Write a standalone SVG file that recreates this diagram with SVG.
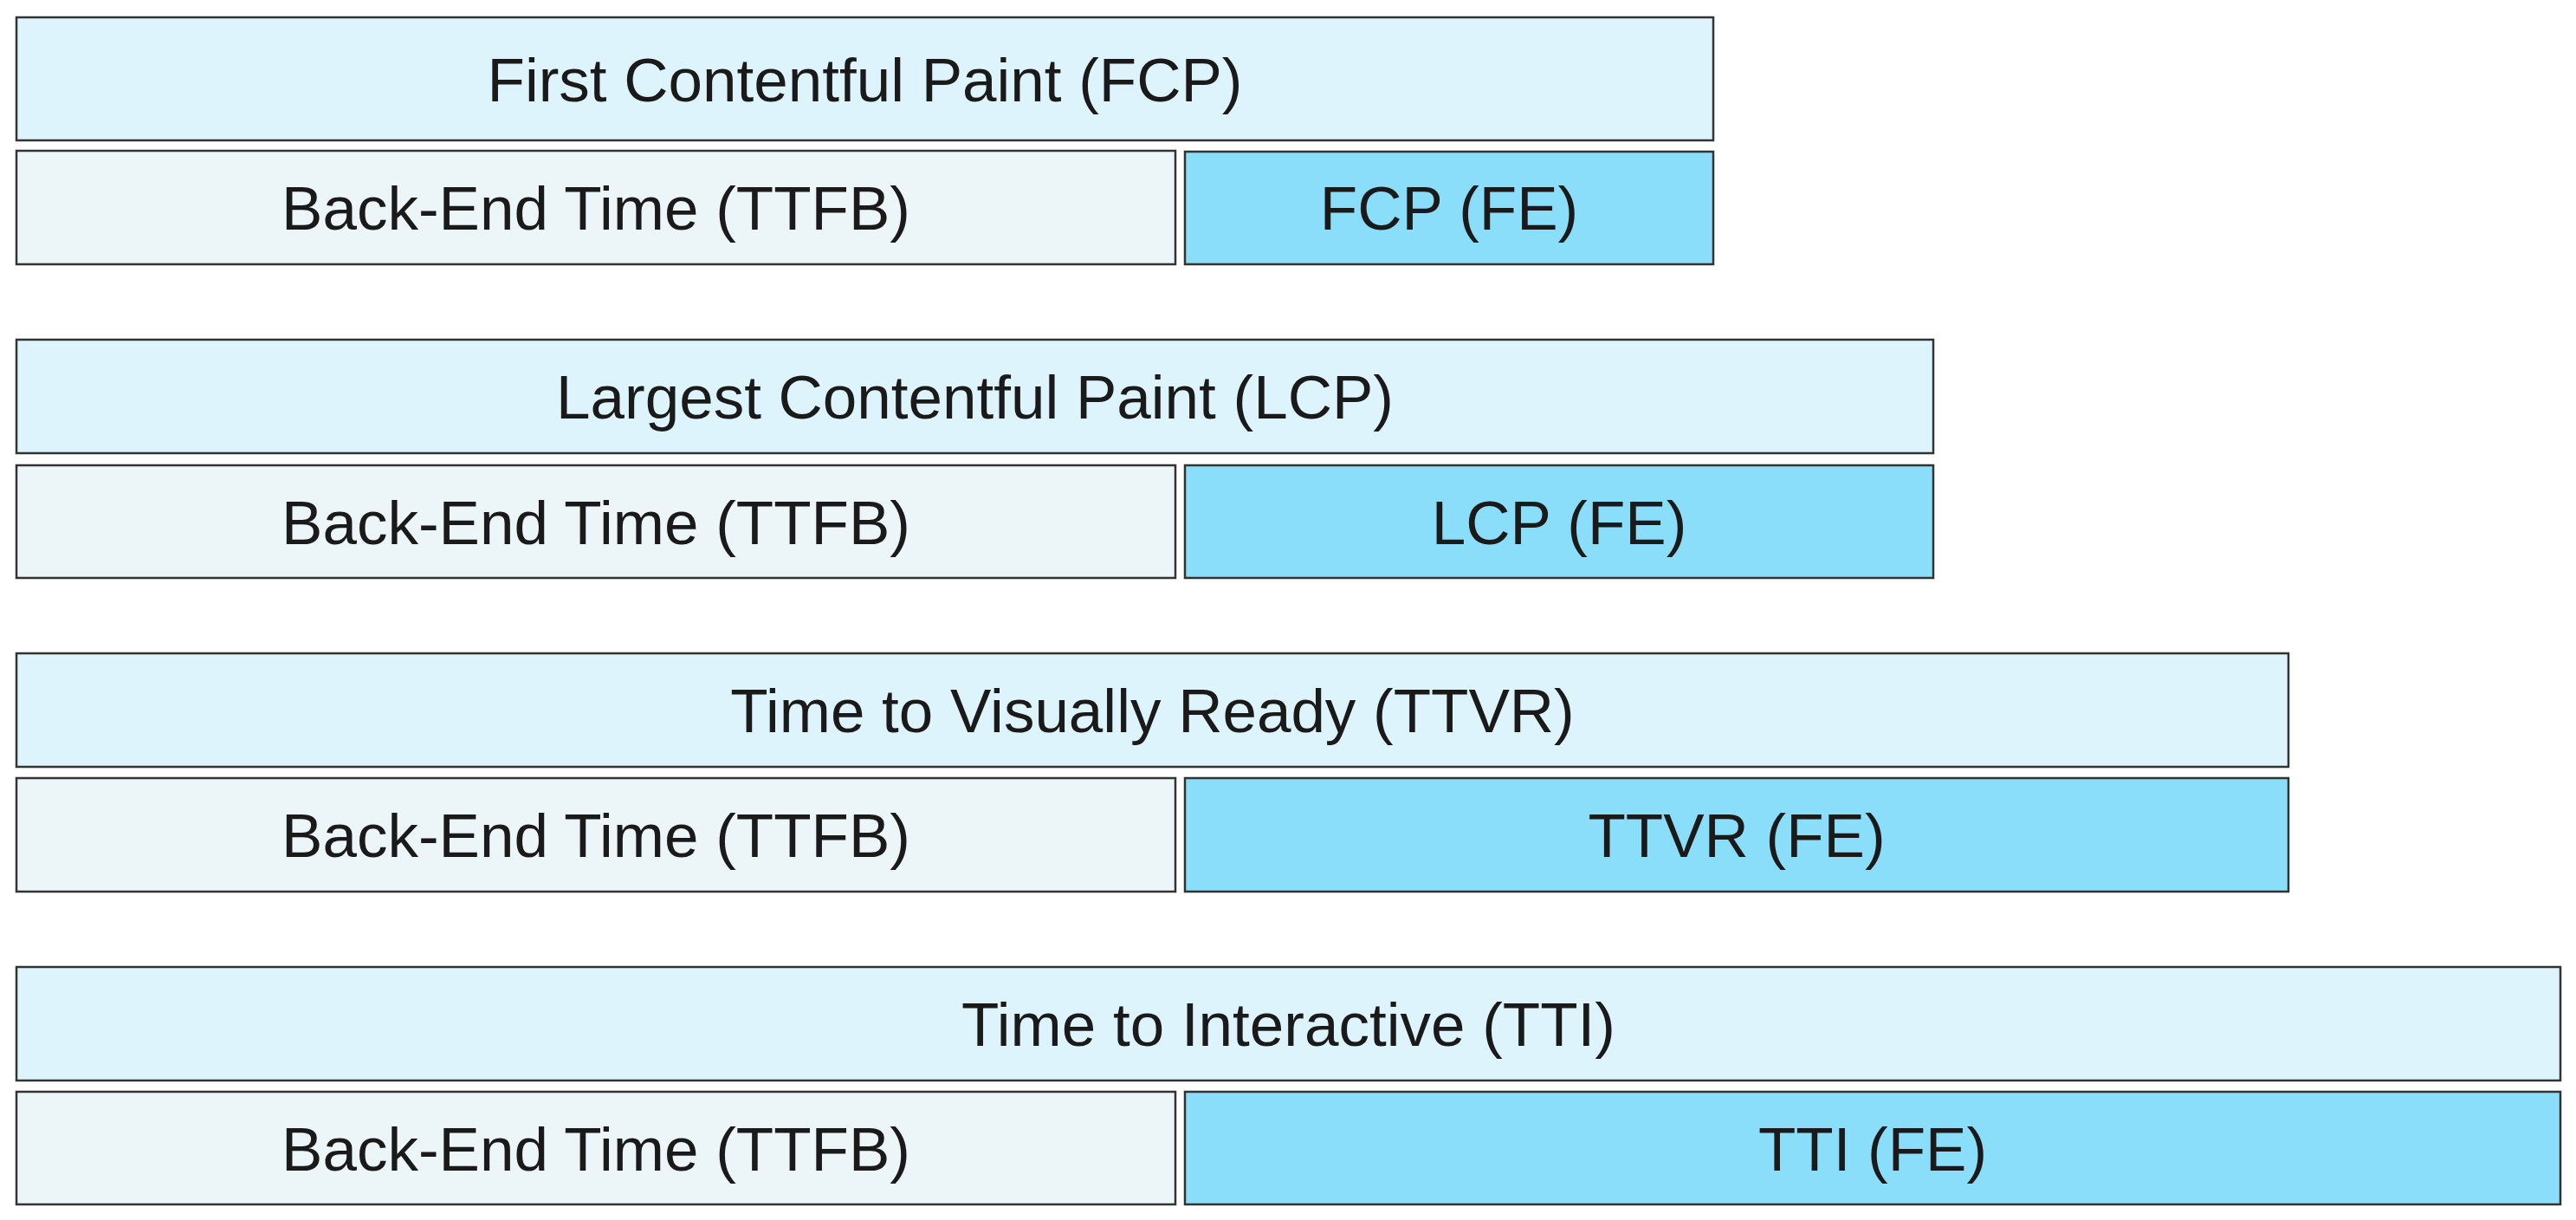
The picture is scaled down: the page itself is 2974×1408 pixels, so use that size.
<svg xmlns="http://www.w3.org/2000/svg" width="2974" height="1408" viewBox="0 0 2974 1408">
<style>
rect{stroke:#333;stroke-width:2.5}
.total{fill:#ddf4fc}
.be{fill:#ecf5f8}
.fe{fill:#8adef9}
text{font-family:"Liberation Sans",Arial,sans-serif;font-size:71px;fill:#1a1a1a;text-anchor:middle}
</style>
<rect width="2974" height="1408" fill="#ffffff" style="stroke:none"/>
<g id="fcp">
<rect class="total" x="19" y="20" width="1959" height="142"/>
<text x="998.5" y="116.5">First Contentful Paint (FCP)</text>
</g>
<g id="fcp-ttfb">
<rect class="be" x="19" y="174" width="1338" height="131"/>
<text x="688" y="265">Back-End Time (TTFB)</text>
</g>
<g id="fcp-fe">
<rect class="fe" x="1368" y="175" width="610" height="130"/>
<text x="1673" y="265">FCP (FE)</text>
</g>
<g id="lcp">
<rect class="total" x="19" y="392" width="2213" height="131"/>
<text x="1125.5" y="483">Largest Contentful Paint (LCP)</text>
</g>
<g id="lcp-ttfb">
<rect class="be" x="19" y="537" width="1338" height="130"/>
<text x="688" y="627.5">Back-End Time (TTFB)</text>
</g>
<g id="lcp-fe">
<rect class="fe" x="1368" y="537" width="864" height="130"/>
<text x="1800" y="627.5">LCP (FE)</text>
</g>
<g id="ttvr">
<rect class="total" x="19" y="754" width="2623" height="131"/>
<text x="1330.5" y="845">Time to Visually Ready (TTVR)</text>
</g>
<g id="ttvr-ttfb">
<rect class="be" x="19" y="898" width="1338" height="131"/>
<text x="688" y="989">Back-End Time (TTFB)</text>
</g>
<g id="ttvr-fe">
<rect class="fe" x="1368" y="898" width="1274" height="131"/>
<text x="2005" y="989">TTVR (FE)</text>
</g>
<g id="tti">
<rect class="total" x="19" y="1116" width="2937" height="131"/>
<text x="1487.5" y="1207">Time to Interactive (TTI)</text>
</g>
<g id="tti-ttfb">
<rect class="be" x="19" y="1260" width="1338" height="130"/>
<text x="688" y="1350.5">Back-End Time (TTFB)</text>
</g>
<g id="tti-fe">
<rect class="fe" x="1368" y="1260" width="1588" height="130"/>
<text x="2162" y="1350.5">TTI (FE)</text>
</g>
<g id="connectors"/>
</svg>
